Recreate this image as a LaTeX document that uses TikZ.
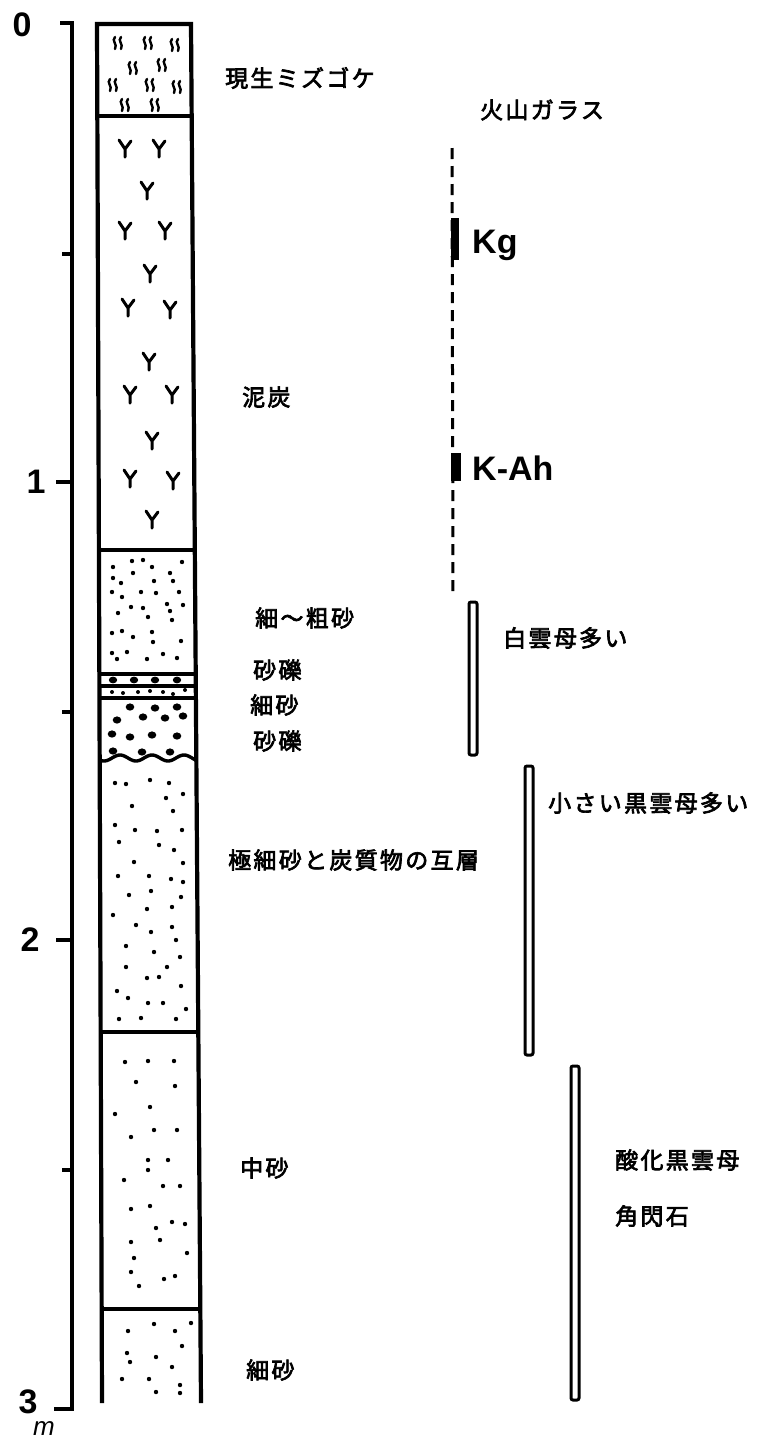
\documentclass[tikz,border=0pt]{standalone}
\usepackage{fontspec}
\usepackage{tikz}
\newfontfamily\jp[LetterSpace=10,FakeBold=3]{Noto Sans CJK JP}
\newfontfamily\num{Liberation Sans}

\tikzset{
  lbl/.style={anchor=west,inner sep=0pt,font=\jp\fontsize{23}{23}\selectfont},
  tag/.style={anchor=base west,inner sep=0pt,font=\num\bfseries\fontsize{34}{34}\selectfont},
  depth/.style={inner sep=0pt,font=\num\bfseries\fontsize{34}{34}\selectfont},
  bed/.style={line width=3.4pt},
  rangebar/.style={line width=3pt,rounded corners=2pt},
  peat/.pic={\draw[line width=3pt,line cap=round] (0,9) -- (0,1) -- (-6,-8) (0,1) -- (6,-7);},
  moss/.pic={\draw[line width=2.4pt,line cap=round]
     (-3,-6) .. controls (-7,-2) and (0,1) .. (-3,6)
     (3,-6) .. controls (-1,-2) and (6,1) .. (3,6);}
}

\begin{document}
\begin{tikzpicture}[x=1pt,y=-1pt]
\useasboundingbox (0,0) rectangle (762,1443);

% depth scale
\draw[line width=3.4pt] (60,23) -- (72,23) -- (72,1409) -- (54,1409);
\foreach \y in {482,940} \draw[line width=3.4pt] (56,\y) -- (72,\y);
\foreach \y in {254,712,1170} \draw[line width=3.4pt] (62,\y) -- (72,\y);
\node[depth] (d0) at (22,25) {0};
\node[depth] (d1) at (36,482) {1};
\node[depth] (d2) at (30,940) {2};
\node[depth] (d3) at (28,1402) {3};
\node[inner sep=0pt,font=\num\itshape\fontsize{26}{26}\selectfont] (unit) at (44,1428) {m};

% column
\begin{scope}
\clip (97,24) -- (191,24) -- (201,1403) -- (102,1403) -- cycle;
\foreach \y in {116,550,674,686,698,1032,1309}
  \draw[bed] (90,\y) -- (210,\y);
\draw[bed,domain=90:210,samples=80] plot (\x,{758+3*sin(\x*11.25)});

% moss
\foreach \x/\y in {118/43,148/43,175/45,133/68,162/65,113/85,150/85,177/87,125/105,155/105}
  \pic at (\x,\y) {moss};

% peat
\foreach \x/\y in {125/148,159/148,147/190,125/230,165/230,150/273,128/307,170/309,
                   149/361,130/394,172/394,152/440,130/478,173/480,152/519}
  \pic at (\x,\y) {peat};

% fine to coarse sand
\foreach \x/\y in {113/567,132/561,143/560,152/567,182/562,133/573,170/573,113/578,
                   121/583,154/581,173/581,112/592,122/597,141/592,156/593,179/592,
                   131/607,143/608,167/604,183/605,118/613,170/611,148/617,172/620,
                   112/633,122/631,152/632,133/637,181/641,153/642,112/653,127/652,
                   117/659,147/659,163/654,177/658}
  \fill (\x,\y) circle[radius=2.2];

% gravel bands and thin sand
\foreach \x/\y in {113/680,134/680,155/680,177/680}
  \fill (\x,\y) ellipse[x radius=4.2,y radius=3.4];
\foreach \x/\y in {112/692,123/693,138/692,150/691,163/692,173/694,185/690}
  \fill (\x,\y) circle[radius=2];
\foreach \x/\y in {130/707,155/708,177/707,117/720,143/717,165/718,183/716,112/734,
                   130/737,152/735,177/736,113/751,142/752,170/752}
  \fill (\x,\y) ellipse[x radius=4.3,y radius=3.6];

% very fine sand
\foreach \x/\y in {115/783,126/784,150/780,169/783,183/794,166/798,132/806,173/811,
                   115/825,135/830,157/831,182/830,119/842,159/845,174/850,134/862,
                   183/863,118/876,149/876,171/879,183/882,129/895,151/891,181/897,
                   113/915,147/909,172/907,136/925,151/932,172/927,176/940,126/946,
                   154/952,180/957,126/967,167/967,147/978,159/977,181/986,117/991,
                   128/998,148/1003,163/1003,186/1009,119/1019,141/1018,176/1019}
  \fill (\x,\y) circle[radius=2.2];

% medium sand
\foreach \x/\y in {125/1062,148/1061,174/1061,136/1082,175/1086,115/1114,150/1107,
                   131/1137,154/1130,177/1130,148/1160,168/1160,148/1170,124/1180,
                   163/1186,180/1186,131/1209,150/1206,156/1228,172/1222,185/1224,
                   131/1242,160/1240,134/1258,187/1253,131/1272,164/1279,175/1276,139/1286}
  \fill (\x,\y) circle[radius=2.2];

% fine sand
\foreach \x/\y in {154/1324,191/1323,128/1331,175/1331,182/1346,127/1353,130/1362,
                   156/1357,172/1367,122/1379,149/1379,156/1392,180/1385,180/1393}
  \fill (\x,\y) circle[radius=2.2];
\end{scope}
\draw[line width=4.2pt] (102,1403) -- (97,24) -- (191,24) -- (201,1403);

% layer names
\node[lbl] (moss) at (225,78) {現生ミズゴケ};
\node[lbl] (peatname) at (242,397) {泥炭};
\node[lbl] (fcsand) at (255,618) {細〜粗砂};
\node[lbl] (gravA) at (253,670) {砂礫};
\node[lbl] (fsandA) at (250,705) {細砂};
\node[lbl] (gravB) at (253,741) {砂礫};
\node[lbl] (vfsand) at (228,860) {極細砂と炭質物の互層};
\node[lbl] (msand) at (240,1168) {中砂};
\node[lbl] (fsandB) at (246,1370) {細砂};

% volcanic glass
\node[lbl] (glass) at (480,110) {火山ガラス};
\draw[line width=3pt,dash pattern=on 11pt off 7pt] (452,148) -- (453,594);
\fill (451,218) rectangle (459,260);
\fill (451,453) rectangle (461,481);
\node[tag] (kg) at (472,253) {Kg};
\node[tag] (kah) at (472,480) {K-Ah};

% minerals
\draw[rangebar] (469,602) rectangle (477,755);
\node[lbl] (musc) at (503,638) {白雲母多い};
\draw[rangebar] (525,766) rectangle (533,1055);
\node[lbl] (biot) at (548,803) {小さい黒雲母多い};
\draw[rangebar] (571,1066) rectangle (579,1400);
\node[lbl] (oxbiot) at (615,1160) {酸化黒雲母};
\node[lbl] (hbl) at (615,1216) {角閃石};
\end{tikzpicture}
\end{document}
